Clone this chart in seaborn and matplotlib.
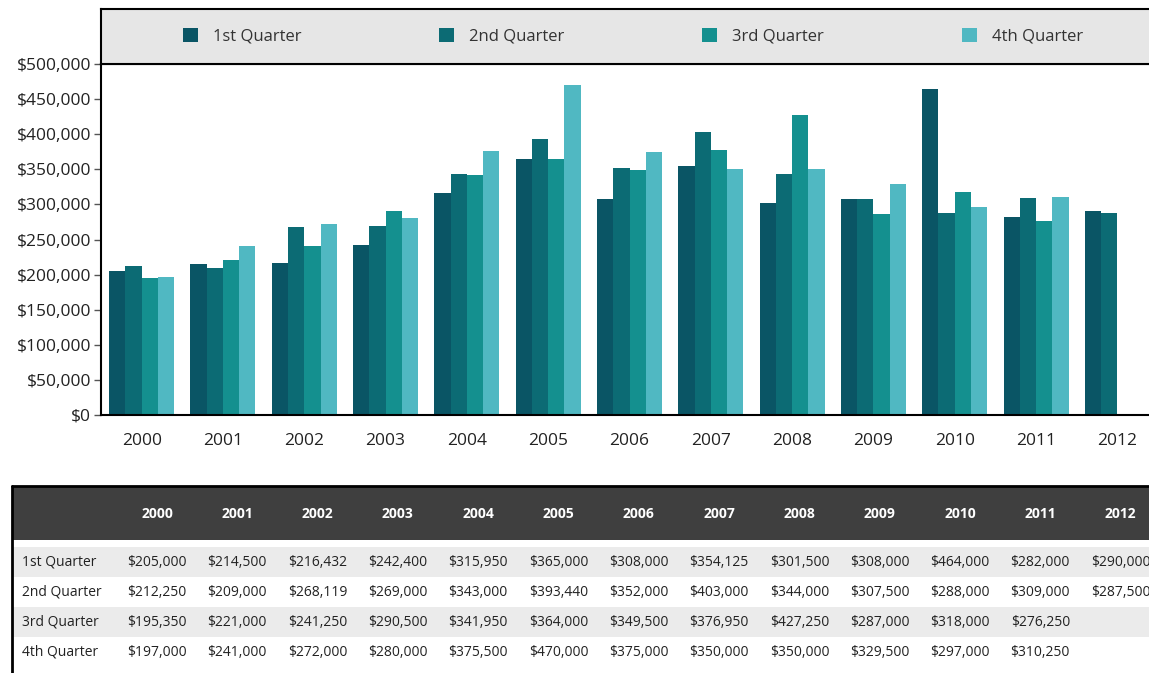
import numpy as np
import pandas as pd
import matplotlib
matplotlib.use("Agg")
import matplotlib.pyplot as plt
import seaborn as sns
from matplotlib.patches import Rectangle, Patch
from matplotlib.lines import Line2D
from matplotlib.ticker import FuncFormatter, MultipleLocator, FixedLocator

# ---- data -------------------------------------------------------------
years = ["2000", "2001", "2002", "2003", "2004", "2005", "2006",
         "2007", "2008", "2009", "2010", "2011", "2012"]
quarters = ["1st Quarter", "2nd Quarter", "3rd Quarter", "4th Quarter"]
q1 = [205000, 214500, 216432, 242400, 315950, 365000, 308000,
      354125, 301500, 308000, 464000, 282000, 290000]
q2 = [212250, 209000, 268119, 269000, 343000, 393440, 352000,
      403000, 344000, 307500, 288000, 309000, 287500]
q3 = [195350, 221000, 241250, 290500, 341950, 364000, 349500,
      376950, 427250, 287000, 318000, 276250, np.nan]
q4 = [197000, 241000, 272000, 280000, 375500, 470000, 375000,
      350000, 350000, 329500, 297000, 310250, np.nan]
colors = ["#0a5565", "#0c6b74", "#14908f", "#50b8c2"]

wide = pd.DataFrame({"year": years, quarters[0]: q1, quarters[1]: q2,
                     quarters[2]: q3, quarters[3]: q4})
long = wide.melt(id_vars="year", var_name="quarter", value_name="sales")

# ---- figure -----------------------------------------------------------
W, H = 1149, 673
sns.set_style("white")
plt.rcParams["font.family"] = ["Open Sans", "DejaVu Sans"]
fig = plt.figure(figsize=(W / 100, H / 100), dpi=100)


def px(x0, y0, x1, y1):
    """Pixel box (top-left origin) -> figure-fraction rect."""
    return [x0 / W, 1 - y1 / H, (x1 - x0) / W, (y1 - y0) / H]


# ---- bar chart --------------------------------------------------------
ax = fig.add_axes(px(101, 64, 1158, 415))
sns.barplot(data=long, x="year", y="sales", hue="quarter",
            hue_order=quarters, palette=colors, errorbar=None,
            saturation=1, width=0.8, linewidth=0, legend=False, ax=ax)
ax.set_xlim(-0.5, len(years) - 0.5)
ax.set_ylim(0, 500000)
ax.set_xlabel("")
ax.set_ylabel("")
ax.yaxis.set_major_locator(MultipleLocator(50000))
ax.yaxis.set_major_formatter(FuncFormatter(lambda v, p: f"${v:,.0f}"))
ax.xaxis.set_minor_locator(FixedLocator(np.arange(-0.5, len(years), 1.0)))
ax.tick_params(axis="x", which="major", length=0, pad=13,
               labelsize=12.5, labelcolor="#222222")
ax.tick_params(axis="x", which="minor", length=7, width=1,
               color="#444444", direction="out")
ax.tick_params(axis="y", length=5, width=1, color="#555555",
               labelsize=12.5, labelcolor="#222222", pad=2, left=True)
for side in ("left", "bottom", "top"):
    ax.spines[side].set_color("black")
    ax.spines[side].set_linewidth(1.5)
ax.spines["right"].set_visible(False)

# ---- legend band ------------------------------------------------------
band = fig.add_axes(px(101, 9, 1160, 64))
band.set_facecolor("#e6e6e6")
band.set_xticks([])
band.set_yticks([])
for s in band.spines.values():
    s.set_color("black")
    s.set_linewidth(1.5)
handles = [Patch(facecolor=c, edgecolor="none") for c in colors]
fig.legend(handles, quarters, ncol=4, loc="center", mode="expand",
           bbox_to_anchor=(183 / W, 1 - 64 / H, (1083 - 183) / W, 55 / H),
           bbox_transform=fig.transFigure, frameon=False, fontsize=12,
           handlelength=0.9, handleheight=0.9, handletextpad=0.9,
           borderpad=0, borderaxespad=0, labelcolor="#333333")

# ---- data table -------------------------------------------------------
fig.add_artist(Rectangle((12 / W, 1 - 540 / H), (W - 12) / W, 54 / H,
                         transform=fig.transFigure, facecolor="#3f3f3f",
                         edgecolor="none"))
row_y = [562, 592, 622, 652]
for r in (0, 2):
    fig.add_artist(Rectangle((12 / W, 1 - (row_y[r] + 15) / H), (W - 12) / W,
                             30 / H, transform=fig.transFigure,
                             facecolor="#ebebeb", edgecolor="none"))
fig.add_artist(Line2D([12 / W, 1], [1 - 486 / H, 1 - 486 / H],
                      transform=fig.transFigure, color="black", lw=2))
fig.add_artist(Line2D([12 / W, 12 / W], [1 - 486 / H, 0],
                      transform=fig.transFigure, color="black", lw=2))

col_x = [157 + 80.3 * i for i in range(len(years))]
for x, yr in zip(col_x, years):
    fig.text(x / W, 1 - 514 / H, yr, ha="center", va="center",
             fontsize=10, fontweight="bold", color="white")
series = [q1, q2, q3, q4]
for r, (name, vals) in enumerate(zip(quarters, series)):
    y = 1 - row_y[r] / H
    fig.text(22 / W, y, name, ha="left", va="center", fontsize=10,
             color="#222222")
    for x, v in zip(col_x, vals):
        if not np.isnan(v):
            fig.text(x / W, y, f"${v:,.0f}", ha="center", va="center",
                     fontsize=10, color="#222222")

fig.savefig("out.png", dpi=100)
